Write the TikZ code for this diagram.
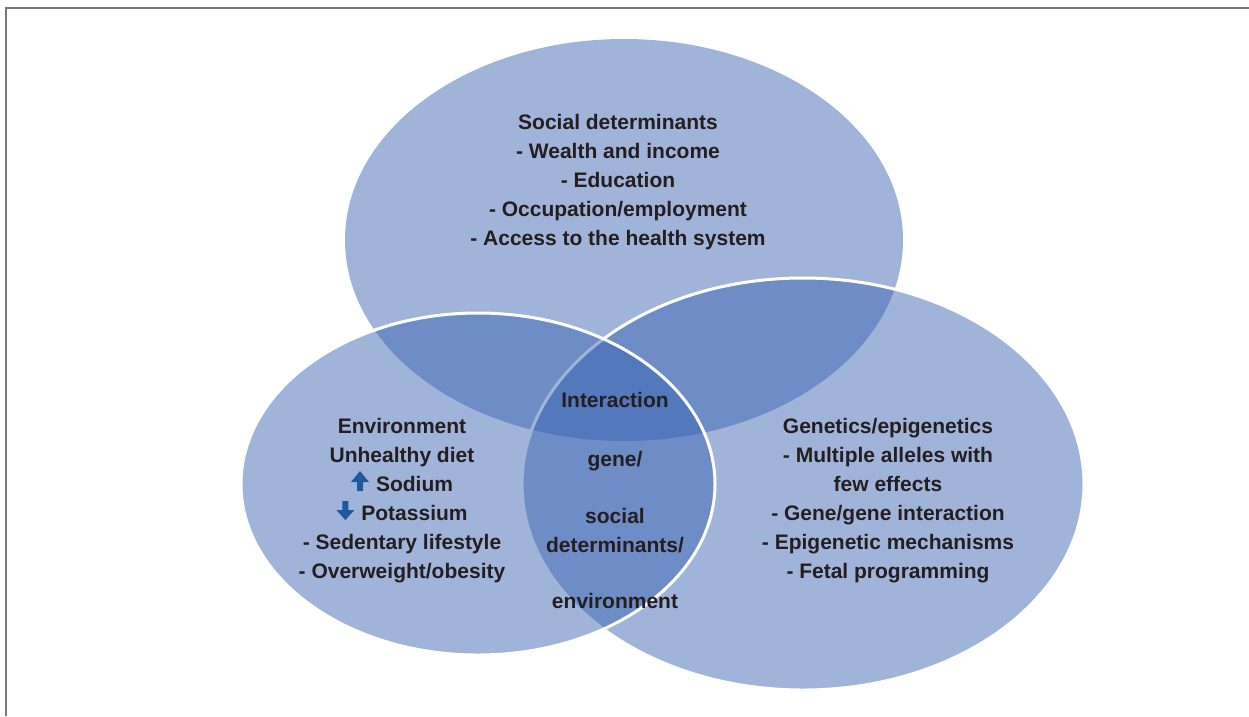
\documentclass[tikz,border=0pt]{standalone}
\usepackage{fontspec}
\setmainfont{Liberation Sans}
\definecolor{vennblue}{RGB}{55,97,177}
\definecolor{arrowblue}{RGB}{30,90,155}
\definecolor{txt}{RGB}{35,31,32}
\definecolor{framegray}{RGB}{120,120,120}
\newcommand{\upglyph}{\tikz[baseline=0pt]\fill[arrowblue] (-3pt,0pt) -- (3pt,0pt) -- (3pt,9pt) -- (9pt,9pt) -- (0pt,20pt) -- (-9pt,9pt) -- (-3pt,9pt) -- cycle;}
\newcommand{\downglyph}{\tikz[baseline=0pt]\fill[arrowblue] (-3pt,19pt) -- (3pt,19pt) -- (3pt,10pt) -- (9pt,10pt) -- (0pt,0pt) -- (-9pt,10pt) -- (-3pt,10pt) -- cycle;}
\begin{document}
\begin{tikzpicture}[x=1pt,y=-1pt,
  lbl/.style={anchor=base, text=txt, font=\fontsize{21}{29}\selectfont\bfseries, inner sep=0pt},
  venn/.style={fill=vennblue, fill opacity=0.475},
  vennedge/.style={draw=white, line width=3pt}]
\useasboundingbox (0,0) rectangle (1249,716);
\draw[framegray, line width=2pt] (6,716) -- (6,8) -- (1249,8);
% circles
\path[venn] (624,240) ellipse [x radius=279pt, y radius=201pt];
\path[venn, vennedge] (803,484) ellipse [x radius=281pt, y radius=206pt];
\path[venn, vennedge] (478,484) ellipse [x radius=237pt, y radius=171pt];
% social determinants
\node[lbl] (s1) at (618,129) {Social determinants};
\node[lbl] (s2) at (618,158) {- Wealth and income};
\node[lbl] (s3) at (618,187) {- Education};
\node[lbl] (s4) at (618,216) {- Occupation/employment};
\node[lbl] (s5) at (618,245) {- Access to the health system};
% environment
\node[lbl] (e1) at (402,433) {Environment};
\node[lbl] (e2) at (402,462) {Unhealthy diet};
\node[lbl] (e3) at (402,491) {\upglyph\hspace{7pt}Sodium};
\node[lbl] (e4) at (402,520) {\downglyph\hspace{7pt}Potassium};
\node[lbl] (e5) at (402,549) {- Sedentary lifestyle};
\node[lbl] (e6) at (402,578) {- Overweight/obesity};
% genetics
\node[lbl] (g1) at (888,433) {Genetics/epigenetics};
\node[lbl] (g2) at (888,462) {- Multiple alleles with};
\node[lbl] (g3) at (888,491) {few effects};
\node[lbl] (g4) at (888,520) {- Gene/gene interaction};
\node[lbl] (g5) at (888,549) {- Epigenetic mechanisms};
\node[lbl] (g6) at (888,578) {- Fetal programming};
% interaction
\node[lbl] (i1) at (615,407) {Interaction};
\node[lbl] (i2) at (615,466) {gene/};
\node[lbl] (i3) at (615,523) {social};
\node[lbl] (i4) at (615,552) {determinants/};
\node[lbl] (i5) at (615,608) {environment};
\end{tikzpicture}
\end{document}
